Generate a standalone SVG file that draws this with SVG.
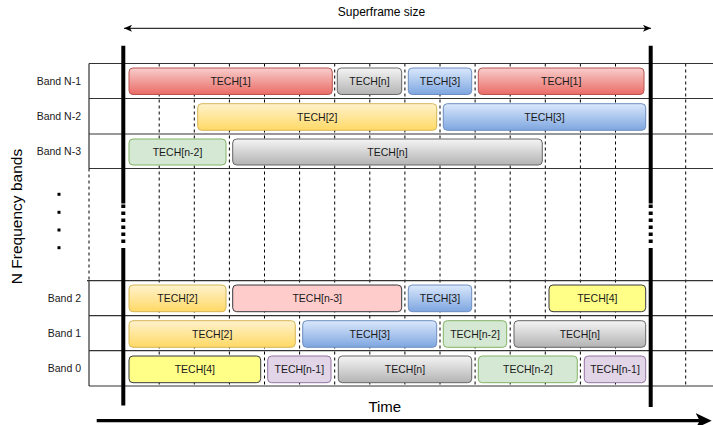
<svg xmlns="http://www.w3.org/2000/svg" width="713" height="425" viewBox="0 0 713 425">
  <defs>
    <linearGradient id="gRed" x1="0" y1="0" x2="0" y2="1"><stop offset="0" stop-color="#f8cecc"/><stop offset="1" stop-color="#ea6b66"/></linearGradient>
    <linearGradient id="gGray" x1="0" y1="0" x2="0" y2="1"><stop offset="0" stop-color="#f5f5f5"/><stop offset="1" stop-color="#b3b3b3"/></linearGradient>
    <linearGradient id="gBlue" x1="0" y1="0" x2="0" y2="1"><stop offset="0" stop-color="#dae8fc"/><stop offset="1" stop-color="#7ea6e0"/></linearGradient>
    <linearGradient id="gYellow" x1="0" y1="0" x2="0" y2="1"><stop offset="0" stop-color="#fff2cc"/><stop offset="1" stop-color="#ffd966"/></linearGradient>
    <marker id="arrSmall" viewBox="0 0 8 7" refX="8" refY="3.5" markerWidth="8" markerHeight="7" markerUnits="userSpaceOnUse" orient="auto-start-reverse">
      <path d="M0,0 L8,3.5 L0,7 L2,3.5 Z" fill="#000"/>
    </marker>
    <marker id="arrBig" viewBox="0 0 16 15" refX="8.3" refY="7.5" markerWidth="16" markerHeight="15" markerUnits="userSpaceOnUse" orient="auto">
      <path d="M0,0 L16,7.5 L0,15 L4,7.5 Z" fill="#000"/>
    </marker>
  </defs>
  <style>
    .grid { stroke: #333; stroke-width: 1.2; fill: none; }
    .dash { stroke: #000; stroke-width: 1; stroke-dasharray: 3 3; fill: none; }
    .thick { stroke: #000; stroke-width: 4; fill: none; }
    .lbl { font-family: "Liberation Sans", Arial, sans-serif; font-size: 10.5px; fill: #1a1a1a; }
    .band { text-anchor: end; }
    .box text { text-anchor: middle; }
    .red { fill: url(#gRed); stroke: #b85450; }
    .gray { fill: url(#gGray); stroke: #666; }
    .blue { fill: url(#gBlue); stroke: #6c8ebf; }
    .yellow { fill: url(#gYellow); stroke: #d6b656; }
    .green { fill: #d5e8d4; stroke: #82b366; }
    .pink { fill: #ffcccc; stroke: #36393d; }
    .lemon { fill: #ffff88; stroke: #36393d; }
    .purple { fill: #e1d5e7; stroke: #9673a6; }
    .box rect { stroke-width: 1; }
  </style>

  <rect width="713" height="425" fill="#fff"/>

  <!-- time grid: dashed slot boundaries -->
  <g id="slots">
    <path class="dash" d="M159.2,63.5V386 M194.3,63.5V386 M229.4,63.5V386 M264.5,63.5V386 M299.6,63.5V386 M334.7,63.5V386 M369.8,63.5V386 M404.9,63.5V386 M440,63.5V386 M475.1,63.5V386 M510.2,63.5V386 M545.3,63.5V386 M580.4,63.5V386 M615.5,63.5V386 M685.7,63.5V386"/>
  </g>

  <!-- band rows -->
  <g id="rows">
    <path class="grid" d="M89,63.5H713 M89,98.5H713 M89,134H713 M89,168.5H713 M87,280.7H713 M89,315.7H713 M89,350.7H713 M89,386H713"/>
    <path class="grid" d="M89,63.5V168.5 M89,280.7V386"/>
    <path class="dash" d="M89,168.5V280.7"/>
  </g>

  <!-- superframe boundaries -->
  <g id="boundaries">
    <path class="thick" d="M123.3,45.7V203.5 M123.3,248V405.5 M650.7,45.7V203.5 M650.7,248V407"/>
    <path class="thick" stroke-dasharray="3.5 3.5" d="M123.3,204.5V244"/>
    <path class="thick" stroke-dasharray="3.5 3.5" d="M650.7,204.5V244"/>
  </g>

  <!-- band labels -->
  <g id="labels" class="lbl band">
    <text x="81" y="84.5">Band N-1</text>
    <text x="81" y="120">Band N-2</text>
    <text x="81" y="155">Band N-3</text>
    <text x="81" y="301.5">Band 2</text>
    <text x="81" y="336.7">Band 1</text>
    <text x="81" y="372">Band 0</text>
  </g>

  <!-- ellipsis between bands -->
  <g id="ellipsis" fill="#000">
    <rect x="57.5" y="192.8" width="3" height="3"/>
    <rect x="57.5" y="210.8" width="3" height="3"/>
    <rect x="57.5" y="228.5" width="3" height="3"/>
    <rect x="57.5" y="246.2" width="3" height="3"/>
  </g>

  <text id="axis-y" transform="translate(21.5,216.5) rotate(-90)" text-anchor="middle" font-family="Liberation Sans, Arial, sans-serif" font-size="15.5" fill="#000">N Frequency bands</text>

  <!-- Band N-1 -->
  <g id="nm1-tech1a" class="box lbl"><rect class="red" x="129" y="68" width="203.3" height="26.5" rx="4"/><text x="230.6" y="85">TECH[1]</text></g>
  <g id="nm1-techn" class="box lbl"><rect class="gray" x="337.3" y="68" width="64.4" height="26.5" rx="4"/><text x="369.5" y="85">TECH[n]</text></g>
  <g id="nm1-tech3" class="box lbl"><rect class="blue" x="408.3" y="68" width="63.4" height="26.5" rx="4"/><text x="440" y="85">TECH[3]</text></g>
  <g id="nm1-tech1b" class="box lbl"><rect class="red" x="478.3" y="68" width="165.7" height="26.5" rx="4"/><text x="561.2" y="85">TECH[1]</text></g>

  <!-- Band N-2 -->
  <g id="nm2-tech2" class="box lbl"><rect class="yellow" x="197.7" y="103.7" width="239" height="26.6" rx="4"/><text x="317.2" y="120.8">TECH[2]</text></g>
  <g id="nm2-tech3" class="box lbl"><rect class="blue" x="443.3" y="103.7" width="202.4" height="26.6" rx="4"/><text x="544.5" y="120.8">TECH[3]</text></g>

  <!-- Band N-3 -->
  <g id="nm3-techn2" class="box lbl"><rect class="green" x="129" y="139" width="97" height="26" rx="4"/><text x="177.5" y="155.8">TECH[n-2]</text></g>
  <g id="nm3-techn" class="box lbl"><rect class="gray" x="232.7" y="139" width="309.6" height="26" rx="4"/><text x="387.5" y="155.8">TECH[n]</text></g>

  <!-- Band 2 -->
  <g id="b2-tech2" class="box lbl"><rect class="yellow" x="129" y="285" width="97" height="26.7" rx="4"/><text x="177.5" y="302">TECH[2]</text></g>
  <g id="b2-techn3" class="box lbl"><rect class="pink" x="232.7" y="285" width="169" height="26.7" rx="4"/><text x="317.2" y="302">TECH[n-3]</text></g>
  <g id="b2-tech3" class="box lbl"><rect class="blue" x="408.3" y="285" width="63.4" height="26.7" rx="4"/><text x="440" y="302">TECH[3]</text></g>
  <g id="b2-tech4" class="box lbl"><rect class="lemon" x="549" y="285" width="96.7" height="26.7" rx="4"/><text x="597.3" y="302">TECH[4]</text></g>

  <!-- Band 1 -->
  <g id="b1-tech2" class="box lbl"><rect class="yellow" x="129" y="320.7" width="166.3" height="26.6" rx="4"/><text x="212.2" y="337.7">TECH[2]</text></g>
  <g id="b1-tech3" class="box lbl"><rect class="blue" x="302.7" y="320.7" width="134" height="26.6" rx="4"/><text x="369.7" y="337.7">TECH[3]</text></g>
  <g id="b1-techn2" class="box lbl"><rect class="green" x="443.3" y="320.7" width="63.4" height="26.6" rx="4"/><text x="475" y="337.7">TECH[n-2]</text></g>
  <g id="b1-techn" class="box lbl"><rect class="gray" x="514" y="320.7" width="131.7" height="26.6" rx="4"/><text x="579.8" y="337.7">TECH[n]</text></g>

  <!-- Band 0 -->
  <g id="b0-tech4" class="box lbl"><rect class="lemon" x="129" y="356" width="131.7" height="26.7" rx="4"/><text x="194.8" y="373">TECH[4]</text></g>
  <g id="b0-techn1a" class="box lbl"><rect class="purple" x="267.7" y="356" width="63.3" height="26.7" rx="4"/><text x="299.3" y="373">TECH[n-1]</text></g>
  <g id="b0-techn" class="box lbl"><rect class="gray" x="338.3" y="356" width="133.4" height="26.7" rx="4"/><text x="405" y="373">TECH[n]</text></g>
  <g id="b0-techn2" class="box lbl"><rect class="green" x="478.3" y="356" width="99" height="26.7" rx="4"/><text x="527.8" y="373">TECH[n-2]</text></g>
  <g id="b0-techn1b" class="box lbl"><rect class="purple" x="584.3" y="356" width="61.4" height="26.7" rx="4"/><text x="615" y="373">TECH[n-1]</text></g>

  <!-- connectors -->
  <g id="connectors">
    <line x1="124" y1="28.3" x2="651" y2="28.3" stroke="#000" stroke-width="1" marker-start="url(#arrSmall)" marker-end="url(#arrSmall)"/>
    <line x1="96.7" y1="420.7" x2="704" y2="420.7" stroke="#000" stroke-width="3.2" marker-end="url(#arrBig)"/>
  </g>

  <text id="superframe-label" x="381.5" y="15.5" text-anchor="middle" font-family="Liberation Sans, Arial, sans-serif" font-size="12" fill="#000">Superframe size</text>
  <text id="time-label" x="384.8" y="412" text-anchor="middle" font-family="Liberation Sans, Arial, sans-serif" font-size="15" fill="#000">Time</text>
</svg>
